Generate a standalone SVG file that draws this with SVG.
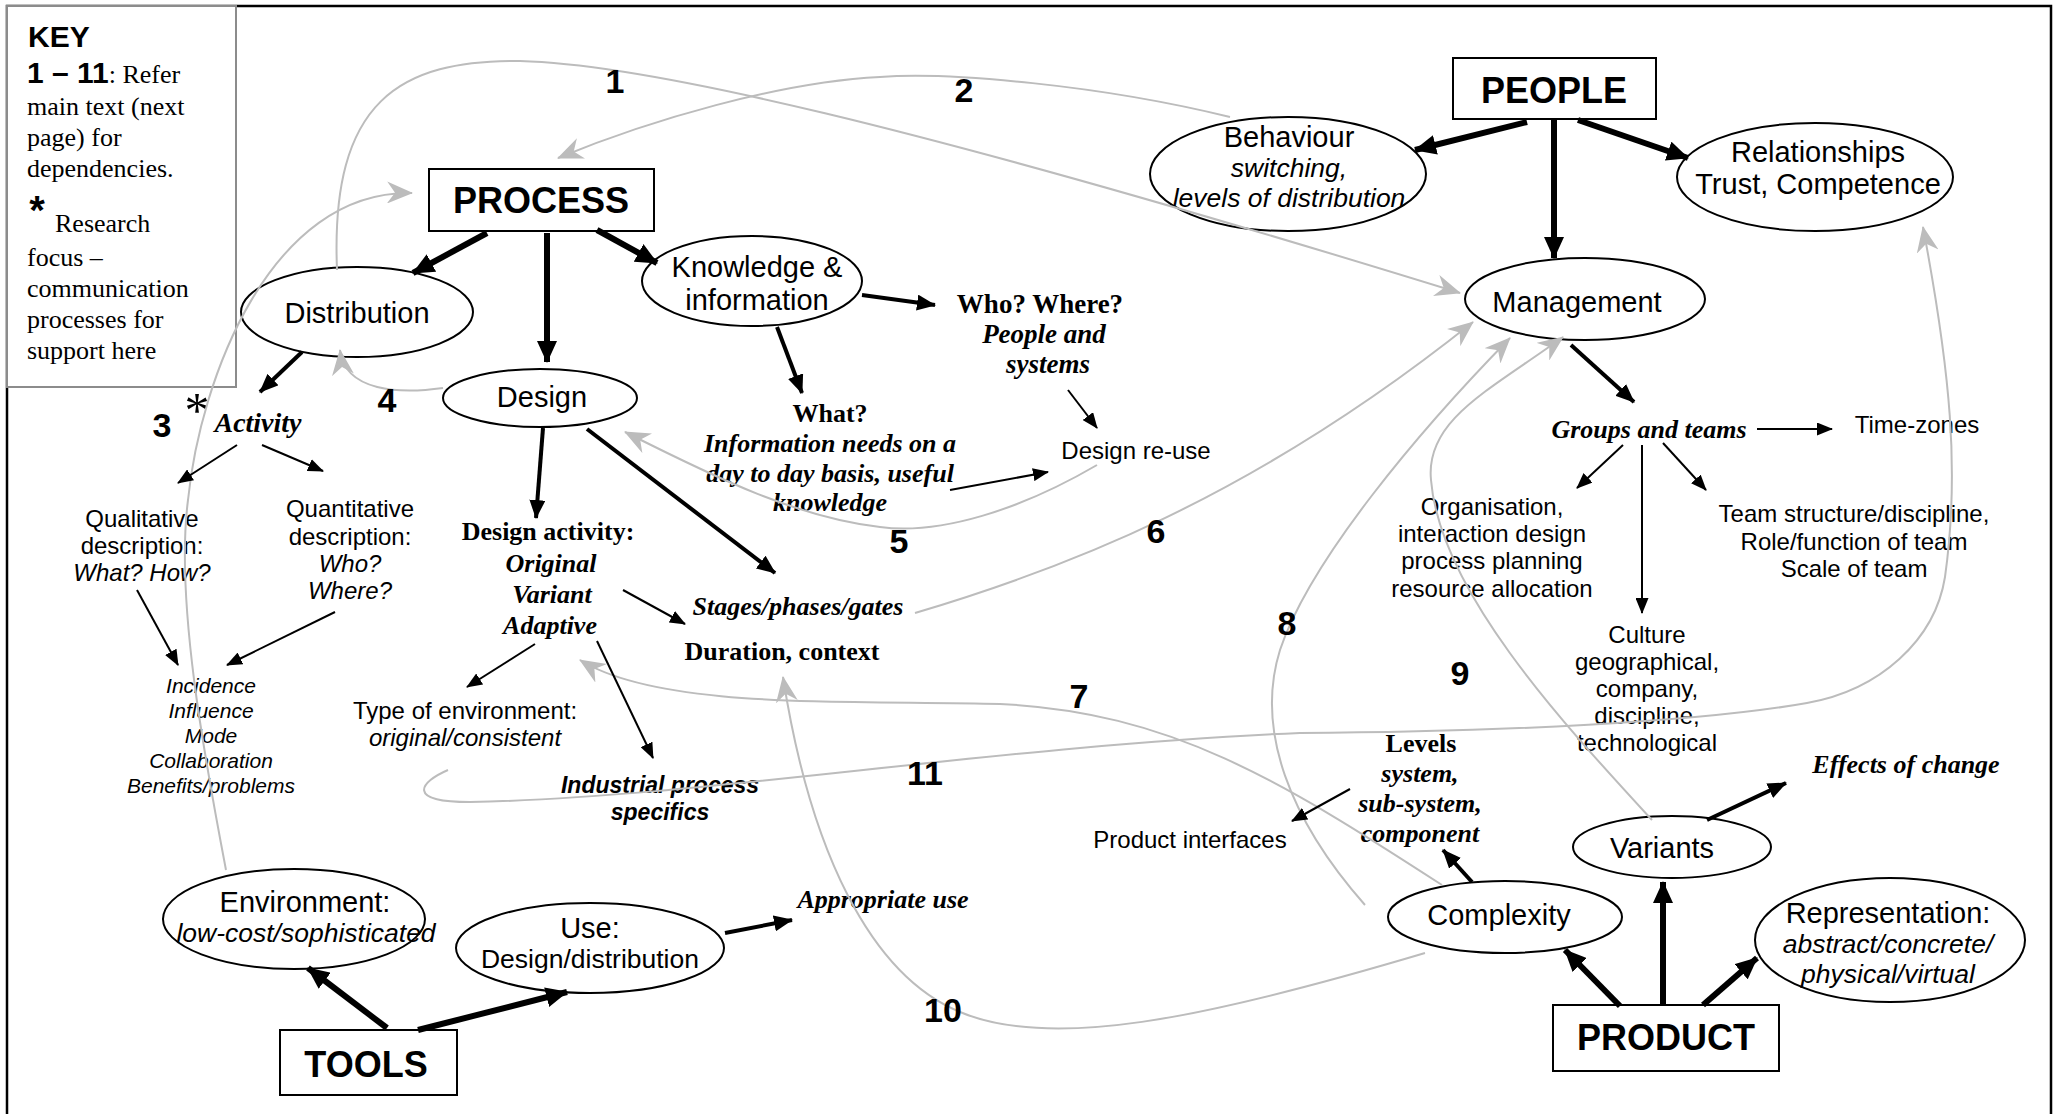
<svg xmlns="http://www.w3.org/2000/svg" width="2060" height="1114" viewBox="0 0 2060 1114">
  <style>
    .sans { font-family: "Liberation Sans", Arial, sans-serif; fill: #000; }
    .serif { font-family: "Liberation Serif", "Times New Roman", serif; fill: #000; }
    .b { font-weight: bold; }
    .i { font-style: italic; }
    .box { fill: #fff; stroke: #000; stroke-width: 2; }
    .ell { fill: #fff; stroke: #000; stroke-width: 2; }
    .hdr { font-size: 36px; }
    .lbl { font-size: 29px; }
    .sub { font-size: 26.5px; }
    .txt { font-size: 24px; }
    .sm { font-size: 21px; }
    .st { font-size: 26px; }
    .num { font-size: 34px; }
    .thick { stroke: #000; stroke-width: 6; fill: none; marker-end: url(#ah-l); }
    .med { stroke: #000; stroke-width: 4; fill: none; marker-end: url(#ah-m); }
    .thin { stroke: #000; stroke-width: 2; fill: none; marker-end: url(#ah-s); }
    .grey { stroke: #bcbcbc; stroke-width: 2; fill: none; marker-end: url(#ah-g); }
  </style>
  <defs>
    <marker id="ah-l" viewBox="0 0 22 20" refX="21" refY="10" markerWidth="22" markerHeight="20" markerUnits="userSpaceOnUse" orient="auto">
      <path d="M0,0 L22,10 L0,20 z" fill="#000"/>
    </marker>
    <marker id="ah-m" viewBox="0 0 19 16" refX="18" refY="8" markerWidth="19" markerHeight="16" markerUnits="userSpaceOnUse" orient="auto">
      <path d="M0,0 L19,8 L0,16 z" fill="#000"/>
    </marker>
    <marker id="ah-s" viewBox="0 0 16 13" refX="15" refY="6.5" markerWidth="16" markerHeight="13" markerUnits="userSpaceOnUse" orient="auto">
      <path d="M0,0 L16,6.5 L0,13 z" fill="#000"/>
    </marker>
    <marker id="ah-g" viewBox="0 0 26 22" refX="25" refY="11" markerWidth="26" markerHeight="22" markerUnits="userSpaceOnUse" orient="auto">
      <path d="M0,0 L26,11 L0,22 L8,11 z" fill="#bcbcbc"/>
    </marker>
  </defs>

  <rect width="2060" height="1114" fill="#fff"/>
  <!-- outer frame -->
  <rect x="7" y="6" width="2044" height="1140" fill="none" stroke="#000" stroke-width="2.5"/>

  <!-- key -->
  <g id="key">
    <rect x="7" y="6" width="229" height="381" fill="#fff" stroke="#8c8c8c" stroke-width="2"/>
    <text x="28" y="47" class="sans b" font-size="30">KEY</text>
    <text x="27" y="83"><tspan class="sans b" font-size="30">1 – 11</tspan><tspan class="serif" font-size="26">: Refer</tspan></text>
    <text class="serif" font-size="26">
      <tspan x="27" y="115">main text (next</tspan>
      <tspan x="27" y="146">page) for</tspan>
      <tspan x="27" y="177">dependencies.</tspan>
    </text>
    <text x="37" y="224" class="sans b" font-size="40" text-anchor="middle">*</text>
    <text class="serif" font-size="26">
      <tspan x="55" y="232">Research</tspan>
      <tspan x="27" y="266">focus –</tspan>
      <tspan x="27" y="297">communication</tspan>
      <tspan x="27" y="328">processes for</tspan>
      <tspan x="27" y="359">support here</tspan>
    </text>
  </g>

  <!-- main category boxes -->
  <g id="process">
    <rect x="429" y="169" width="225" height="62" class="box"/>
    <text x="541" y="213" class="sans b hdr" text-anchor="middle">PROCESS</text>
  </g>
  <g id="people">
    <rect x="1453" y="58" width="203" height="61" class="box"/>
    <text x="1554" y="103" class="sans b hdr" text-anchor="middle">PEOPLE</text>
  </g>
  <g id="tools">
    <rect x="280" y="1030" width="177" height="65" class="box"/>
    <text x="366" y="1077" class="sans b hdr" text-anchor="middle">TOOLS</text>
  </g>
  <g id="product">
    <rect x="1553" y="1005" width="226" height="66" class="box"/>
    <text x="1666" y="1050" class="sans b hdr" text-anchor="middle">PRODUCT</text>
  </g>

  <!-- ellipse nodes -->
  <g id="distribution">
    <ellipse cx="357" cy="312" rx="116" ry="45" class="ell"/>
    <text x="357" y="323" class="sans lbl" text-anchor="middle">Distribution</text>
  </g>
  <g id="design">
    <ellipse cx="540" cy="398" rx="97" ry="29" class="ell"/>
    <text x="542" y="407" class="sans lbl" text-anchor="middle">Design</text>
  </g>
  <g id="knowledge">
    <ellipse cx="752" cy="281" rx="110" ry="45" class="ell"/>
    <text x="757" y="277" class="sans lbl" text-anchor="middle">Knowledge &amp;</text>
    <text x="757" y="310" class="sans lbl" text-anchor="middle">information</text>
  </g>
  <g id="behaviour">
    <ellipse cx="1288" cy="174" rx="138" ry="57" class="ell"/>
    <text x="1289" y="147" class="sans lbl" text-anchor="middle">Behaviour</text>
    <text x="1289" y="177" class="sans i sub" text-anchor="middle">switching,</text>
    <text x="1289" y="207" class="sans i sub" text-anchor="middle">levels of distribution</text>
  </g>
  <g id="relationships">
    <ellipse cx="1815" cy="177" rx="138" ry="54" class="ell"/>
    <text x="1818" y="162" class="sans lbl" text-anchor="middle">Relationships</text>
    <text x="1818" y="194" class="sans lbl" text-anchor="middle">Trust, Competence</text>
  </g>
  <g id="management">
    <ellipse cx="1585" cy="299" rx="120" ry="41" class="ell"/>
    <text x="1577" y="312" class="sans lbl" text-anchor="middle">Management</text>
  </g>
  <g id="environment">
    <ellipse cx="294" cy="919" rx="131" ry="50" class="ell"/>
    <text x="305" y="912" class="sans lbl" text-anchor="middle">Environment:</text>
    <text x="306" y="942" class="sans i sub" text-anchor="middle">low-cost/sophisticated</text>
  </g>
  <g id="use">
    <ellipse cx="590" cy="948" rx="134" ry="45" class="ell"/>
    <text x="590" y="938" class="sans lbl" text-anchor="middle">Use:</text>
    <text x="590" y="968" class="sans sub" text-anchor="middle">Design/distribution</text>
  </g>
  <g id="complexity">
    <ellipse cx="1505" cy="917" rx="117" ry="36" class="ell"/>
    <text x="1499" y="925" class="sans lbl" text-anchor="middle">Complexity</text>
  </g>
  <g id="variants">
    <ellipse cx="1672" cy="847" rx="99" ry="31" class="ell"/>
    <text x="1662" y="858" class="sans lbl" text-anchor="middle">Variants</text>
  </g>
  <g id="representation">
    <ellipse cx="1890" cy="940" rx="135" ry="62" class="ell"/>
    <text x="1888" y="923" class="sans lbl" text-anchor="middle">Representation:</text>
    <text x="1888" y="953" class="sans i sub" text-anchor="middle">abstract/concrete/</text>
    <text x="1888" y="983" class="sans i sub" text-anchor="middle">physical/virtual</text>
  </g>

  <!-- free-standing labels -->
  <g id="activity">
    <text x="197" y="427" class="serif" font-size="50" text-anchor="middle">*</text>
    <text x="258" y="432" class="serif b i" font-size="28" text-anchor="middle">Activity</text>
  </g>
  <g id="qualitative" class="sans txt" text-anchor="middle">
    <text x="142" y="527">Qualitative</text>
    <text x="142" y="554">description:</text>
    <text x="142" y="581" class="i">What? How?</text>
  </g>
  <g id="quantitative" class="sans txt" text-anchor="middle">
    <text x="350" y="517">Quantitative</text>
    <text x="350" y="545">description:</text>
    <text x="350" y="572" class="i">Who?</text>
    <text x="350" y="599" class="i">Where?</text>
  </g>
  <g id="incidence" class="sans i sm" text-anchor="middle">
    <text x="211" y="693">Incidence</text>
    <text x="211" y="718">Influence</text>
    <text x="211" y="743">Mode</text>
    <text x="211" y="768">Collaboration</text>
    <text x="211" y="793">Benefits/problems</text>
  </g>
  <g id="design-activity" class="serif st" text-anchor="middle">
    <text x="548" y="540" class="b">Design activity:</text>
    <text x="551" y="572" class="b i">Original</text>
    <text x="552" y="603" class="b i">Variant</text>
    <text x="550" y="634" class="b i">Adaptive</text>
  </g>
  <g id="environment-type" class="sans txt" text-anchor="middle">
    <text x="465" y="719">Type of environment:</text>
    <text x="465" y="746" class="i">original/consistent</text>
  </g>
  <g id="industrial" class="sans b i" font-size="23" text-anchor="middle">
    <text x="660" y="793">Industrial process</text>
    <text x="660" y="820">specifics</text>
  </g>
  <g id="stages" class="serif st" text-anchor="middle">
    <text x="798" y="615" class="b i">Stages/phases/gates</text>
    <text x="782" y="660" class="b">Duration, context</text>
  </g>
  <g id="what" class="serif st b" text-anchor="middle">
    <text x="830" y="422">What?</text>
    <text x="830" y="452" class="i">Information needs on a</text>
    <text x="830" y="482" class="i">day to day basis, useful</text>
    <text x="830" y="511" class="i">knowledge</text>
  </g>
  <g id="who-where" class="serif b" font-size="27" text-anchor="middle">
    <text x="1040" y="313">Who? Where?</text>
    <text x="1044" y="343" class="i">People and</text>
    <text x="1048" y="373" class="i">systems</text>
  </g>
  <g id="design-reuse">
    <text x="1136" y="459" class="sans txt" text-anchor="middle">Design re-use</text>
  </g>
  <g id="appropriate-use">
    <text x="883" y="908" class="serif b i st" text-anchor="middle">Appropriate use</text>
  </g>
  <g id="groups">
    <text x="1649" y="438" class="serif b i st" text-anchor="middle">Groups and teams</text>
  </g>
  <g id="time-zones">
    <text x="1917" y="433" class="sans txt" text-anchor="middle">Time-zones</text>
  </g>
  <g id="organisation" class="sans txt" text-anchor="middle">
    <text x="1492" y="515">Organisation,</text>
    <text x="1492" y="542">interaction design</text>
    <text x="1492" y="569">process planning</text>
    <text x="1492" y="597">resource allocation</text>
  </g>
  <g id="team-structure" class="sans txt" text-anchor="middle">
    <text x="1854" y="522">Team structure/discipline,</text>
    <text x="1854" y="550">Role/function of team</text>
    <text x="1854" y="577">Scale of team</text>
  </g>
  <g id="culture" class="sans txt" text-anchor="middle">
    <text x="1647" y="643">Culture</text>
    <text x="1647" y="670">geographical,</text>
    <text x="1647" y="697">company,</text>
    <text x="1647" y="724">discipline,</text>
    <text x="1647" y="751">technological</text>
  </g>
  <g id="levels" class="serif st b" text-anchor="middle">
    <text x="1421" y="752">Levels</text>
    <text x="1420" y="782" class="i">system,</text>
    <text x="1420" y="812" class="i">sub-system,</text>
    <text x="1420" y="842" class="i">component</text>
  </g>
  <g id="product-interfaces">
    <text x="1190" y="848" class="sans txt" text-anchor="middle">Product interfaces</text>
  </g>
  <g id="effects">
    <text x="1906" y="773" class="serif b i st" text-anchor="middle">Effects of change</text>
  </g>

  <!-- connectors -->
  <g id="connectors">
    <!-- dependency curves -->
    <path class="grey" d="M337,270 C330,100 400,60 520,61 C640,64 900,120 1460,293"/>
    <path class="grey" d="M1230,117 C1100,85 950,72 880,77 C780,82 650,120 558,158"/>
    <path class="grey" d="M226,870 C205,760 175,600 188,500 C200,380 270,190 412,193"/>
    <path class="grey" d="M443,388 C400,394 345,392 340,350"/>
    <path class="grey" d="M1097,465 C1020,510 940,535 880,527 C800,518 720,480 625,432"/>
    <path class="grey" d="M915,613 C1060,570 1250,500 1473,322"/>
    <path class="grey" d="M1442,885 C1280,780 1170,712 1000,704 C850,700 660,710 580,660"/>
    <path class="grey" d="M1365,905 C1290,820 1255,730 1280,650 C1310,560 1420,430 1510,338"/>
    <path class="grey" d="M1652,820 C1560,720 1440,590 1431,480 C1425,420 1490,390 1563,337"/>
    <path class="grey" d="M1425,953 C1200,1020 1050,1050 960,1012 C870,975 810,850 783,677"/>
    <path class="grey" d="M448,770 C420,782 405,802 470,802 C700,798 1000,745 1300,733 C1500,732 1700,722 1807,703 C1880,690 1935,640 1945,577 C1960,470 1950,370 1923,227"/>

    <!-- category arrows -->
    <line class="thick" x1="487" y1="233" x2="413" y2="273"/>
    <line class="thick" x1="547" y1="233" x2="547" y2="362"/>
    <line class="thick" x1="597" y1="230" x2="657" y2="263"/>
    <line class="thick" x1="1527" y1="122" x2="1415" y2="150"/>
    <line class="thick" x1="1554" y1="120" x2="1554" y2="258"/>
    <line class="thick" x1="1578" y1="120" x2="1688" y2="158"/>
    <line class="thick" x1="387" y1="1028" x2="308" y2="968"/>
    <line class="thick" x1="418" y1="1030" x2="567" y2="992"/>
    <line class="thick" x1="1620" y1="1006" x2="1565" y2="950"/>
    <line class="thick" x1="1663" y1="1005" x2="1663" y2="882"/>
    <line class="thick" x1="1703" y1="1005" x2="1757" y2="958"/>

    <!-- sub-topic arrows -->
    <line class="med" x1="302" y1="352" x2="260" y2="392"/>
    <line class="med" x1="543" y1="428" x2="536" y2="518"/>
    <line class="med" x1="587" y1="429" x2="775" y2="573"/>
    <line class="med" x1="777" y1="327" x2="802" y2="393"/>
    <line class="med" x1="862" y1="295" x2="935" y2="305"/>
    <line class="med" x1="1571" y1="345" x2="1634" y2="402"/>
    <line class="med" x1="1472" y1="882" x2="1443" y2="850"/>
    <line class="med" x1="1707" y1="820" x2="1786" y2="783"/>
    <line class="med" x1="725" y1="933" x2="792" y2="920"/>

    <!-- detail arrows -->
    <line class="thin" x1="237" y1="445" x2="178" y2="483"/>
    <line class="thin" x1="262" y1="445" x2="323" y2="471"/>
    <line class="thin" x1="137" y1="590" x2="178" y2="665"/>
    <line class="thin" x1="335" y1="612" x2="227" y2="665"/>
    <line class="thin" x1="535" y1="644" x2="467" y2="687"/>
    <line class="thin" x1="597" y1="641" x2="653" y2="758"/>
    <line class="thin" x1="623" y1="590" x2="685" y2="624"/>
    <line class="thin" x1="950" y1="490" x2="1048" y2="472"/>
    <line class="thin" x1="1068" y1="390" x2="1097" y2="428"/>
    <line class="thin" x1="1757" y1="429" x2="1832" y2="429"/>
    <line class="thin" x1="1623" y1="445" x2="1577" y2="488"/>
    <line class="thin" x1="1642" y1="445" x2="1642" y2="613"/>
    <line class="thin" x1="1663" y1="443" x2="1706" y2="490"/>
    <line class="thin" x1="1350" y1="789" x2="1292" y2="821"/>
  </g>

  <!-- dependency numbers -->
  <g id="numbers" class="sans b num" text-anchor="middle">
    <text x="615" y="93">1</text>
    <text x="964" y="102">2</text>
    <text x="162" y="437">3</text>
    <text x="387" y="412">4</text>
    <text x="899" y="553">5</text>
    <text x="1156" y="543">6</text>
    <text x="1079" y="708">7</text>
    <text x="1287" y="635">8</text>
    <text x="1460" y="685">9</text>
    <text x="943" y="1022">10</text>
    <text x="925" y="785">11</text>
  </g>
</svg>
